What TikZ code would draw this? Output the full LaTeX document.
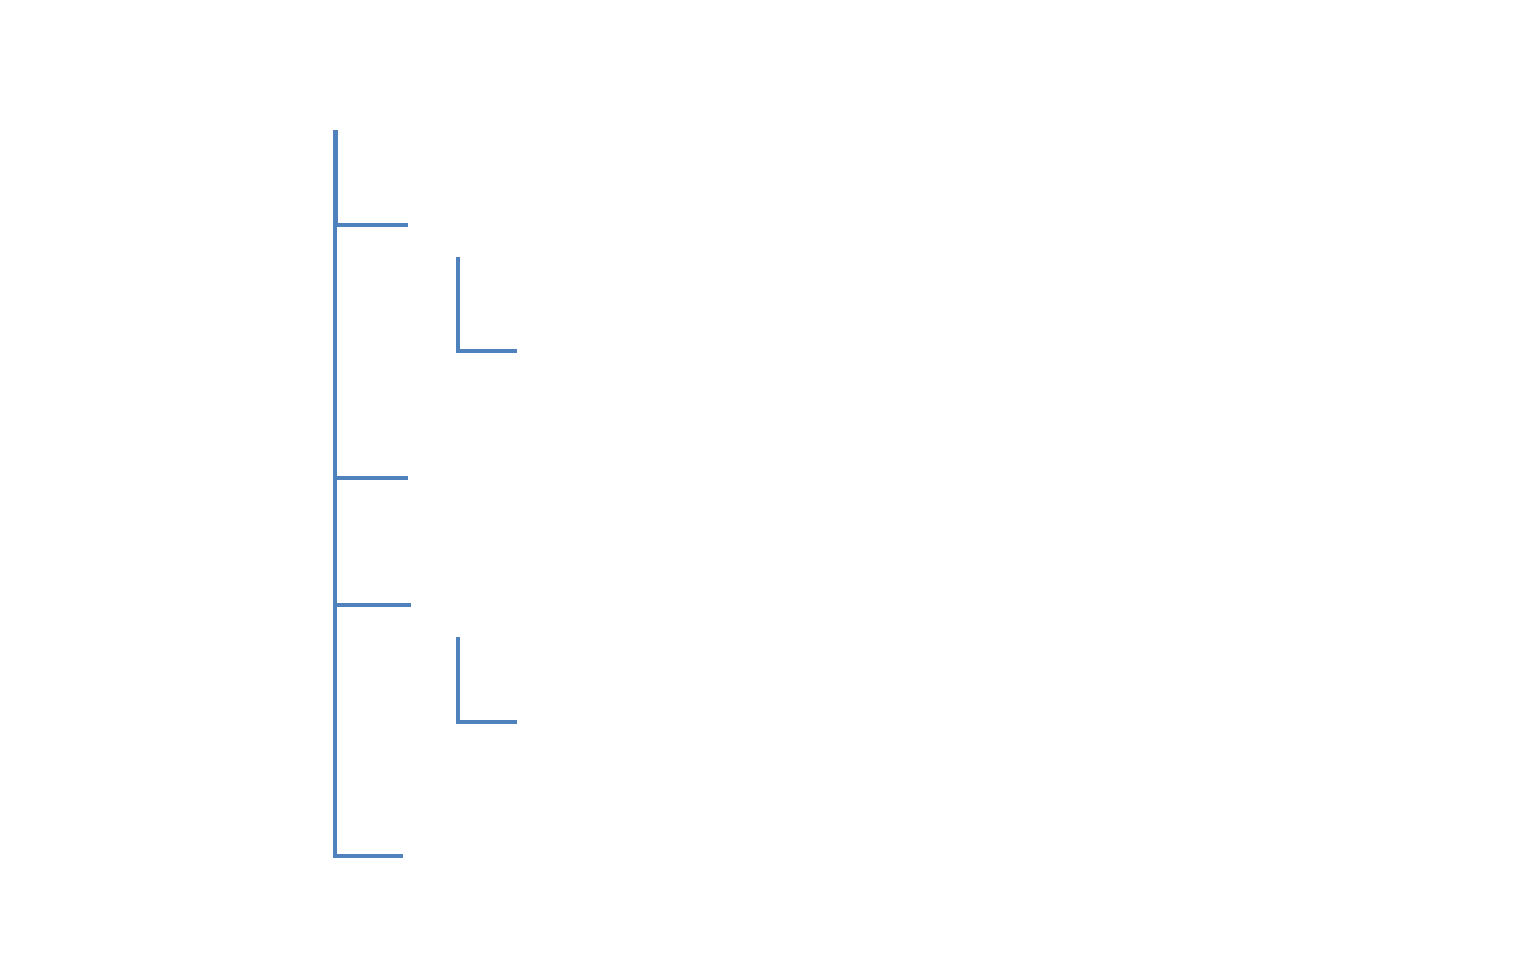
\documentclass[tikz,border=0pt]{standalone}
\begin{document}
\begin{tikzpicture}[x=1pt,y=-1pt,
  tline/.style={draw={rgb,255:red,79;green,129;blue,189}, line width=4.3pt, line join=miter},
  tshadow/.style={draw=black!35, line width=4.3pt, line join=miter, opacity=0.55}]
  \useasboundingbox (0,0) rectangle (1515,964);
  % trunk and branch points
  \coordinate (top) at (335,130);
  \coordinate (b1) at (335,225);
  \coordinate (b1e) at (408,225);
  \coordinate (b2) at (335,478);
  \coordinate (b2e) at (408,478);
  \coordinate (b3) at (335,605);
  \coordinate (b3e) at (411,605);
  \coordinate (bot) at (335,856);
  \coordinate (bote) at (403,856);
  % nested elbows
  \coordinate (s1t) at (458,257);
  \coordinate (s1c) at (458,351);
  \coordinate (s1e) at (517,351);
  \coordinate (s2t) at (458,637);
  \coordinate (s2c) at (458,722);
  \coordinate (s2e) at (517,722);
  % soft drop shadow
  \begin{scope}[shift={(2,2.5)}]
    \draw[tshadow] (top) -- (bot) -- (bote);
    \draw[tshadow] (b1) -- (b1e);
    \draw[tshadow] (b2) -- (b2e);
    \draw[tshadow] (b3) -- (b3e);
    \draw[tshadow] (s1t) -- (s1c) -- (s1e);
    \draw[tshadow] (s2t) -- (s2c) -- (s2e);
  \end{scope}
  % lines
  \draw[tline] (top) -- (bot) -- (bote);
  \draw[tline, line width=5pt] (top) -- (b1);
  \draw[tline] (b1) -- (b1e);
  \draw[tline] (b2) -- (b2e);
  \draw[tline] (b3) -- (b3e);
  \draw[tline] (s1t) -- (s1c) -- (s1e);
  \draw[tline] (s2t) -- (s2c) -- (s2e);
\end{tikzpicture}
\end{document}
